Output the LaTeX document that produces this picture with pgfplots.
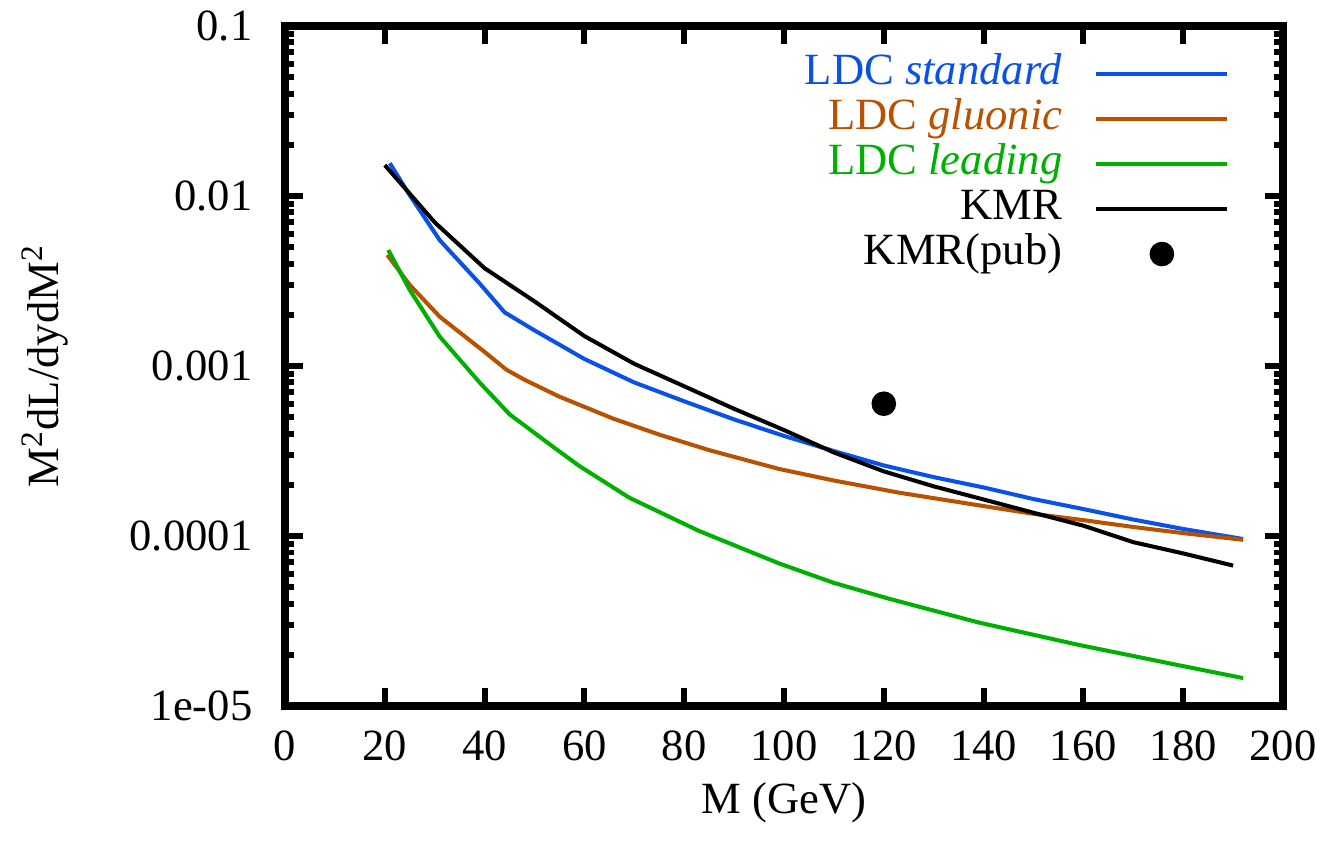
\documentclass[border=0pt]{standalone}
\usepackage{fontspec}
\setmainfont{Liberation Serif}
\usepackage{pgfplots}
\pgfplotsset{compat=1.18}

\definecolor{ldcblue}{RGB}{10,82,230}
\definecolor{ldcbrown}{RGB}{184,82,0}
\definecolor{ldcgreen}{RGB}{0,176,0}

\begin{document}
\fontsize{12.7}{15}\selectfont
\begin{tikzpicture}
  \begin{axis}[
    scale only axis,
    width=9.98cm, height=6.8cm,
    xmin=0, xmax=200,
    ymin=1e-5, ymax=0.1,
    ymode=log,
    xtick={0,20,...,200},
    ytick={1e-5,1e-4,1e-3,1e-2,1e-1},
    yticklabels={1e-05,0.0001,0.001,0.01,0.1},
    /pgf/number format/assume math mode=true,
    tick label style={font=\fontsize{12.7}{15}\selectfont},
    xticklabel style={yshift=-0.09cm},
    yticklabel style={xshift=-0.17cm},
    axis line style={line width=2.3pt},
    every tick/.style={black, line width=1.7pt},
    major tick length=0.18cm,
    minor tick length=0.09cm,
    tick align=inside,
    every axis x label/.style={at={(axis description cs:0.5,-0.142)}, anchor=center},
    every axis y label/.style={at={(axis description cs:-0.2405,0.5)}, rotate=90, anchor=center},
    xlabel={M (GeV)},
    ylabel={M\textsuperscript{2}dL/dydM\textsuperscript{2}},
    label style={font=\fontsize{12.7}{15}\selectfont},
    legend cell align=right,
    legend plot pos=right,
    legend style={
      at={(rel axis cs:0.947,0.961)}, anchor=north east,
      draw=none, fill=none, inner sep=0pt,
      row sep=0.025cm, column sep=0.32cm,
      nodes={inner sep=0pt, text height=0.7em, text depth=0.25em},
      font=\fontsize{12.7}{15}\selectfont,
    },
  ]

    % LDC standard
    \addplot[ldcblue, line width=1.15pt, mark=none,
      legend image code/.code={\draw[ldcblue, line width=1.15pt] (0cm,0cm) -- (1.31cm,0cm);}]
      coordinates {
        (21,0.0156) (25,0.0101) (31,0.0055) (39,0.00306) (44,0.00207)
        (50,0.00162) (60,0.00110) (70,0.00080) (80,0.00062) (90,0.000485)
        (100,0.000388) (110,0.000316) (120,0.00026) (130,0.000222)
        (140,0.000193) (150,0.000165) (160,0.000144) (170,0.000125)
        (180,0.000110) (192,0.0000960)
      };
    \addlegendentry{\textcolor{ldcblue}{LDC \textit{standard}}}

    % LDC gluonic
    \addplot[ldcbrown, line width=1.15pt, mark=none,
      legend image code/.code={\draw[ldcbrown, line width=1.15pt] (0cm,0cm) -- (1.31cm,0cm);}]
      coordinates {
        (20.5,0.0045) (25,0.0030) (31,0.00195) (40,0.00121) (44.4,0.00095)
        (48,0.00083) (55,0.00066) (65.8,0.00049) (75,0.000395) (85,0.00032)
        (99,0.000248) (110,0.000212) (123,0.000180) (140,0.000150)
        (150,0.000135) (160,0.000124) (170,0.000113) (180,0.000104)
        (192,0.0000950)
      };
    \addlegendentry{\textcolor{ldcbrown}{LDC \textit{gluonic}}}

    % LDC leading
    \addplot[ldcgreen, line width=1.15pt, mark=none,
      legend image code/.code={\draw[ldcgreen, line width=1.15pt] (0cm,0cm) -- (1.31cm,0cm);}]
      coordinates {
        (20.7,0.00481) (25,0.0028) (31,0.00149) (39,0.00080) (45,0.00052)
        (54,0.00033) (59,0.000258) (69,0.000168) (83,0.000107)
        (99,0.0000690) (110,0.0000530) (121,0.0000428) (139,0.0000310)
        (159,0.0000229) (179,0.0000174) (192,0.0000146)
      };
    \addlegendentry{\textcolor{ldcgreen}{LDC \textit{leading}}}

    % KMR
    \addplot[black, line width=1.15pt, mark=none,
      legend image code/.code={\draw[black, line width=1.15pt] (0cm,0cm) -- (1.31cm,0cm);}]
      coordinates {
        (20,0.0152) (30,0.0070) (40,0.00376) (50,0.0024) (60,0.00150)
        (70,0.00103) (80,0.00076) (90,0.00056) (100,0.00042) (110,0.00031)
        (120,0.000240) (130,0.000196) (140,0.000164) (150,0.000137)
        (160,0.000115) (170,0.0000920) (180,0.0000790) (190,0.0000670)
      };
    \addlegendentry{KMR}

    % KMR(pub)
    \addplot[black, only marks, mark=*, mark size=3.3pt,
      legend image code/.code={\fill[black] (0.655cm,0cm) circle (3.3pt);}]
      coordinates {(120,0.0006)};
    \addlegendentry{KMR(pub)}

  \end{axis}
  \pgfresetboundingbox
  \path[use as bounding box] (-2.85cm,-1.37cm) rectangle (10.38cm,7.06cm);
\end{tikzpicture}
\end{document}
